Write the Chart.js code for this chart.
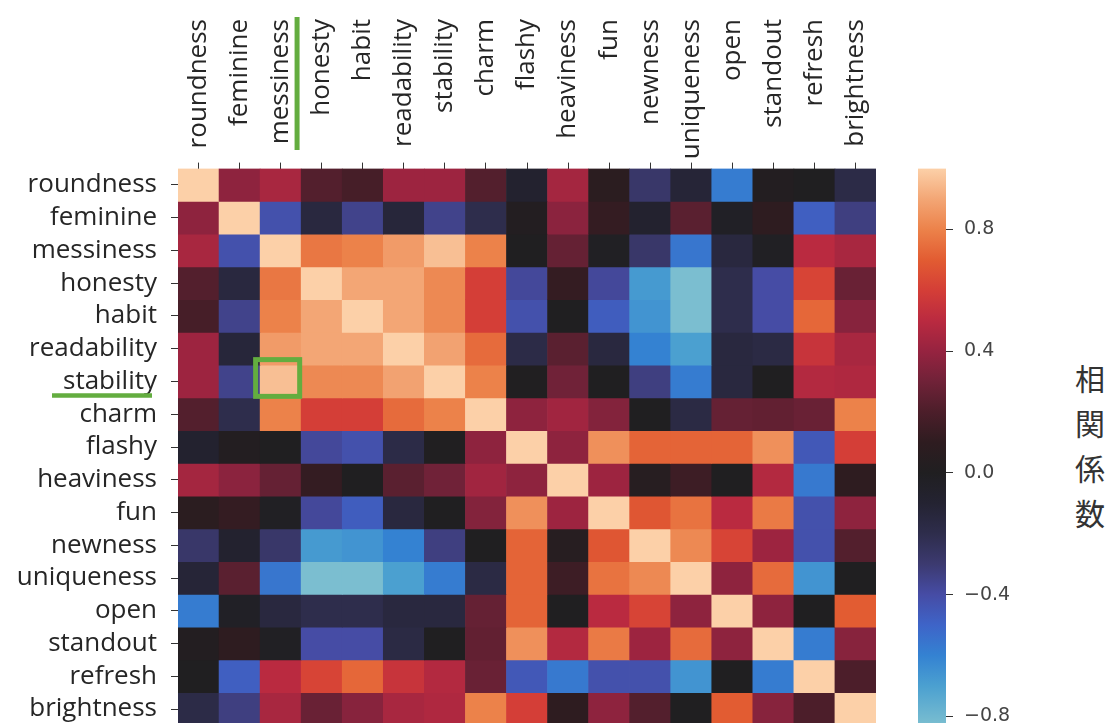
<!DOCTYPE html>
<html>
<head>
<meta charset="utf-8">
<script src="https://cdn.jsdelivr.net/npm/chart.js@4"></script>
<style>
  html, body { margin: 0; padding: 0; background: #fff; overflow: hidden; width: 1111px; height: 723px; }
  #heat { position: absolute; left: 0; top: 0; }
  #cbar { position: absolute; left: 880px; top: 0; }
  #cbTitle {
    position: absolute; left: 1074px; top: 355px; width: 32px;
    font-family: "Noto Sans CJK JP", sans-serif; font-size: 30px; line-height: 45px;
    color: #333; text-align: center;
  }
</style>
</head>
<body>
<canvas id="heat" width="900" height="730"></canvas>
<canvas id="cbar" width="160" height="730"></canvas>
<div id="cbTitle">相関係数</div>
<script>
// 行・列のラベル
const labels = ['roundness', 'feminine', 'messiness', 'honesty', 'habit', 'readability', 'stability', 'charm',
  'flashy', 'heaviness', 'fun', 'newness', 'uniqueness', 'open', 'standout', 'refresh', 'brightness'];

// 相関係数（各行）
const roundness   = [1.00, 0.38, 0.45, 0.22, 0.18, 0.42, 0.42, 0.22, -0.08, 0.44, 0.08, -0.28, -0.12, -0.58, 0.02, 0.00, -0.18];
const feminine    = [0.38, 1.00, -0.42, -0.15, -0.35, -0.13, -0.35, -0.20, 0.02, 0.37, 0.12, -0.08, 0.24, -0.03, 0.10, -0.48, -0.33];
const messiness   = [0.45, -0.42, 1.00, 0.77, 0.80, 0.87, 0.96, 0.80, 0.00, 0.27, -0.02, -0.28, -0.56, -0.15, -0.02, 0.50, 0.45];
const honesty     = [0.22, -0.15, 0.77, 1.00, 0.90, 0.90, 0.82, 0.60, -0.38, 0.12, -0.38, -0.68, -0.83, -0.20, -0.40, 0.62, 0.28];
const habit       = [0.18, -0.35, 0.80, 0.90, 1.00, 0.90, 0.82, 0.60, -0.42, 0.00, -0.47, -0.66, -0.83, -0.20, -0.40, 0.73, 0.36];
const readability = [0.42, -0.13, 0.87, 0.90, 0.90, 1.00, 0.89, 0.74, -0.18, 0.24, -0.15, -0.60, -0.70, -0.15, -0.17, 0.55, 0.45];
const stability   = [0.42, -0.35, 0.96, 0.82, 0.82, 0.89, 1.00, 0.80, 0.01, 0.30, 0.00, -0.33, -0.58, -0.15, 0.00, 0.48, 0.47];
const charm       = [0.22, -0.20, 0.80, 0.60, 0.60, 0.74, 0.80, 1.00, 0.38, 0.43, 0.35, 0.00, -0.17, 0.27, 0.26, 0.28, 0.80];
const flashy      = [-0.08, 0.02, 0.00, -0.38, -0.42, -0.18, 0.01, 0.38, 1.00, 0.38, 0.84, 0.72, 0.72, 0.72, 0.84, -0.45, 0.60];
const heaviness   = [0.44, 0.37, 0.27, 0.12, 0.00, 0.24, 0.30, 0.43, 0.38, 1.00, 0.42, 0.05, 0.15, 0.00, 0.48, -0.57, 0.10];
const fun         = [0.08, 0.12, -0.02, -0.38, -0.47, -0.15, 0.00, 0.35, 0.84, 0.42, 1.00, 0.68, 0.76, 0.50, 0.78, -0.42, 0.38];
const newness     = [-0.28, -0.08, -0.28, -0.68, -0.66, -0.60, -0.33, 0.00, 0.72, 0.05, 0.68, 1.00, 0.82, 0.62, 0.42, -0.42, 0.22];
const uniqueness  = [-0.12, 0.24, -0.56, -0.83, -0.83, -0.70, -0.58, -0.17, 0.72, 0.15, 0.76, 0.82, 1.00, 0.38, 0.74, -0.66, 0.00];
const open        = [-0.58, -0.03, -0.15, -0.20, -0.20, -0.15, -0.15, 0.27, 0.72, 0.00, 0.50, 0.62, 0.38, 1.00, 0.38, 0.00, 0.70];
const standout    = [0.02, 0.10, -0.02, -0.40, -0.40, -0.17, 0.00, 0.26, 0.84, 0.48, 0.78, 0.42, 0.74, 0.38, 1.00, -0.58, 0.36];
const refresh     = [0.00, -0.48, 0.50, 0.62, 0.73, 0.55, 0.48, 0.28, -0.45, -0.57, -0.42, -0.42, -0.66, 0.00, -0.58, 1.00, 0.20];
const brightness  = [-0.18, -0.33, 0.45, 0.28, 0.36, 0.45, 0.47, 0.80, 0.60, 0.10, 0.38, 0.22, 0.00, 0.70, 0.36, 0.20, 1.00];

const matrix = [roundness, feminine, messiness, honesty, habit, readability, stability, charm,
  flashy, heaviness, fun, newness, uniqueness, open, standout, refresh, brightness];

// カラーバーの目盛り
const cbarTicks = [-0.8, -0.4, 0.0, 0.4, 0.8];

// icefire 風のカラーマップ
const iceStops = [
  [-1.0, [188, 228, 220]], [-0.85, [130, 195, 208]], [-0.7, [75, 160, 208]], [-0.6, [52, 130, 210]],
  [-0.5, [62, 100, 200]], [-0.4, [70, 76, 165]], [-0.3, [60, 58, 112]], [-0.2, [46, 45, 76]],
  [-0.1, [36, 35, 50]], [0.0, [32, 31, 33]], [0.1, [46, 28, 32]], [0.2, [76, 30, 42]],
  [0.3, [112, 34, 56]], [0.4, [150, 35, 64]], [0.5, [186, 42, 64]], [0.6, [212, 62, 55]],
  [0.7, [226, 92, 50]], [0.8, [236, 130, 74]], [0.9, [243, 166, 117]], [1.0, [252, 208, 168]]
];

function icefire(v) {
  if (v <= iceStops[0][0]) return rgb(iceStops[0][1]);
  for (let k = 1; k < iceStops.length; k++) {
    const [v1, c1] = iceStops[k];
    if (v <= v1) {
      const [v0, c0] = iceStops[k - 1];
      const t = (v - v0) / (v1 - v0);
      return rgb(c0.map((c, n) => c + (c1[n] - c) * t));
    }
  }
  return rgb(iceStops[iceStops.length - 1][1]);
}
function rgb(c) { return 'rgb(' + c.map(Math.round).join(',') + ')'; }

const labelFont = { family: '"Open Sans", sans-serif', size: 26 };
const textColor = '#262626';
const green = '#63ad3f';

// 列ラベル（上側・回転）と緑の書き込み
const heatExtras = {
  id: 'heatExtras',
  afterDraw(chart) {
    const { ctx } = chart;
    const x = chart.scales.x, y = chart.scales.y;
    const cw = x.width / labels.length;
    const ch = Math.abs(y.getPixelForValue(1) - y.getPixelForValue(0));
    ctx.save();
    ctx.font = labelFont.size + 'px ' + labelFont.family;
    ctx.fillStyle = textColor;
    ctx.textAlign = 'right';
    ctx.textBaseline = 'middle';
    labels.forEach((lab, j) => {
      ctx.save();
      ctx.translate(x.getPixelForValue(j), 19);
      ctx.rotate(-Math.PI / 2);
      ctx.fillText(lab, 0, 0);
      ctx.restore();
    });

    ctx.strokeStyle = green;
    // messiness の横の縦線
    ctx.lineWidth = 5;
    const lx = x.getPixelForValue(2) + cw * 0.4;
    ctx.beginPath();
    ctx.moveTo(lx, 17);
    ctx.lineTo(lx, 150);
    ctx.stroke();

    // stability × messiness のセルを囲む枠
    const cx = x.getPixelForValue(2) - cw / 2;
    const cy = y.getPixelForValue(6);
    ctx.strokeRect(cx - 4.5, cy - 5.5, cw + 3, ch + 4);

    // stability ラベルの下線
    const w = ctx.measureText('stability').width;
    const right = y.left + y.width - 21;
    const uy = y.getPixelForValue(6.5) + 14;
    ctx.lineWidth = 4.5;
    ctx.beginPath();
    ctx.moveTo(right - w - 11, uy);
    ctx.lineTo(right - 5, uy);
    ctx.stroke();
    ctx.restore();
  }
};

new Chart(document.getElementById('heat'), {
  type: 'bar',
  data: {
    labels: labels,
    datasets: labels.map((name, i) => ({
      label: name,
      data: labels.map((col, j) => ({ x: col, y: [i, i + 1], v: matrix[i][j] })),
      backgroundColor: c => icefire(c.raw.v),
      borderWidth: 0,
      borderSkipped: false,
      barPercentage: 1,
      categoryPercentage: 1
    }))
  },
  options: {
    responsive: false,
    animation: false,
    layout: { padding: { left: 0, top: 0, right: 24, bottom: 4.6 } },
    plugins: { legend: { display: false }, tooltip: { enabled: false } },
    scales: {
      x: {
        position: 'top',
        stacked: true,
        ticks: { display: false },
        grid: { drawOnChartArea: false, offset: false, tickLength: 6, color: '#333' },
        border: { display: false },
        afterFit(s) { s.height = 168.6; }
      },
      y: {
        type: 'linear',
        min: 0,
        max: labels.length,
        reverse: true,
        stacked: false,
        afterBuildTicks(s) { s.ticks = labels.map((_, i) => ({ value: i + 0.5 })); },
        ticks: {
          autoSkip: false,
          padding: 14,
          font: labelFont,
          color: textColor,
          callback: v => labels[Math.floor(v)]
        },
        grid: { drawOnChartArea: false, tickLength: 7, color: '#333' },
        border: { display: false },
        afterFit(s) { s.width = 178; s.paddingTop = 0; s.paddingBottom = 0; }
      }
    }
  },
  plugins: [heatExtras]
});

// カラーバー
const vmin = Math.min(...matrix.flat());
const vmax = 1.0;

new Chart(document.getElementById('cbar'), {
  type: 'bar',
  data: {
    labels: [''],
    datasets: [{
      data: [[vmin, vmax]],
      backgroundColor: c => {
        const chart = c.chart;
        if (!chart.chartArea) return null;
        const ys = chart.scales.y;
        const g = chart.ctx.createLinearGradient(0, ys.getPixelForValue(-1), 0, ys.getPixelForValue(1));
        iceStops.forEach(([v, col]) => g.addColorStop((v + 1) / 2, rgb(col)));
        return g;
      },
      borderWidth: 0,
      borderSkipped: false,
      barPercentage: 1,
      categoryPercentage: 1
    }]
  },
  options: {
    responsive: false,
    animation: false,
    layout: { padding: { left: 38, top: 168.6, right: 0, bottom: 4.6 } },
    plugins: { legend: { display: false }, tooltip: { enabled: false } },
    scales: {
      x: { display: false },
      y: {
        position: 'right',
        min: vmin,
        max: vmax,
        afterBuildTicks(s) { s.ticks = cbarTicks.map(v => ({ value: v })); },
        ticks: {
          padding: 11,
          font: { family: '"DejaVu Sans", sans-serif', size: 19 },
          color: '#444',
          callback: v => (v < 0 ? '\u2212' : '') + Math.abs(v).toFixed(1)
        },
        grid: { drawOnChartArea: false, tickLength: 7, color: '#333' },
        border: { display: false },
        afterFit(s) { s.width = 94; s.paddingTop = 0; s.paddingBottom = 0; }
      }
    }
  }
});
</script>
</body>
</html>
